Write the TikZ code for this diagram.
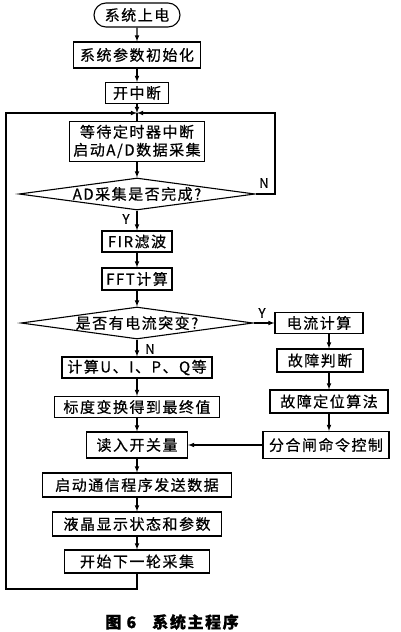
\documentclass[tikz,border=0pt]{standalone}
\usepackage{fontspec}
\setmainfont{Noto Sans CJK SC}[LetterSpace=10,FakeBold=0.6]
\usetikzlibrary{shapes.geometric,shapes.misc}
\begin{document}
\begin{tikzpicture}[x=1pt,y=-1pt]

\tikzstyle{block}=[rectangle,draw=black,line width=1.1pt,inner sep=0pt,align=center,font=\fontsize{15}{18}\selectfont]
\tikzstyle{term}=[rounded rectangle,draw=black,line width=1.1pt,inner sep=0pt,font=\fontsize{15}{18}\selectfont]
\tikzstyle{cond}=[diamond,draw=black,line width=1.1pt,inner sep=0pt,font=\fontsize{15}{18}\selectfont]
\tikzstyle{flow}=[->,>=latex,line width=1.1pt]
\tikzstyle{lab}=[inner sep=0pt,font=\fontsize{13}{13}\selectfont]
\useasboundingbox (0,0) rectangle (400,632);

\node[term, minimum width=86pt, minimum height=24pt] (start) at (137,15) {系统上电};
\node[block, minimum width=127pt, minimum height=26pt] (init) at (137,55) {系统参数初始化};
\node[block, minimum width=63pt, minimum height=21pt] (intr) at (137,93) {开中断};
\coordinate (join) at (137,113);
\node[block, minimum width=135pt, minimum height=40pt] (wait) at (137,141.5) {等待定时器中断\\启动A/D数据采集};
\node[cond, minimum width=236pt, minimum height=32pt] (adchk) at (137,194) {\makebox[0pt]{AD采集是否完成?}};
\node[block, minimum width=70pt, minimum height=21pt] (fir) at (137,241.5) {FIR滤波};
\node[block, minimum width=70pt, minimum height=22pt] (fft) at (137,279) {FFT计算};
\node[cond, minimum width=232pt, minimum height=32pt] (jump) at (137,323) {\makebox[0pt]{是否有电流突变?}};
\node[block, minimum width=150pt, minimum height=21pt] (calcui) at (137,367.5) {计算U、I、P、Q等};
\node[block, minimum width=165pt, minimum height=21pt] (scale) at (137,407) {标度变换得到最终值};
\node[block, minimum width=101pt, minimum height=26pt] (readsw) at (137,445) {读入开关量};
\node[block, minimum width=189pt, minimum height=24pt] (comm) at (137,485) {启动通信程序发送数据};
\node[block, minimum width=169pt, minimum height=24pt] (lcd) at (137,524) {液晶显示状态和参数};
\node[block, minimum width=145pt, minimum height=23pt] (nextrnd) at (137,561.5) {开始下一轮采集};

\node[block, minimum width=88pt, minimum height=21pt] (calc) at (319,323) {电流计算};
\node[block, minimum width=86pt, minimum height=23pt] (fault) at (320,360.5) {故障判断};
\node[block, minimum width=118pt, minimum height=23pt] (locate) at (329,401.5) {故障定位算法};
\node[block, minimum width=126pt, minimum height=27pt] (cmd) at (326,445) {分合闸命令控制};
\coordinate (rcol) at (329,0);

\node[lab] (n1) at (264,183) {N};
\node[lab] (y1) at (126,219) {Y};
\node[lab] (y2) at (262,313) {Y};
\node[lab] (n2) at (150,349) {N};

\coordinate (rtop) at (275,113);
\coordinate (lbot) at (6,589);
\coordinate (ltop) at (6,113);

\draw[flow] (start) -- (init);
\draw[flow] (init) -- (intr);
\draw[flow] (intr) -- (join);
\draw[line width=1.1pt] (join) -- (wait);
\draw[flow] (wait) -- (adchk);
\draw[flow] (adchk.east) -| (rtop) -- (join);
\draw[flow] (adchk) -- (fir);
\draw[flow] (fir) -- (fft);
\draw[flow] (fft) -- (jump);
\draw[flow] (jump.east) -- (calc.west);
\draw[flow] (jump) -- (calcui);
\draw[flow] (calcui) -- (scale);
\draw[flow] (scale) -- (readsw);
\draw[flow] (calc.south -| rcol) -- (fault.north -| rcol);
\draw[flow] (fault.south -| rcol) -- (locate.north -| rcol);
\draw[flow] (locate.south -| rcol) -- (cmd.north -| rcol);
\draw[flow] (cmd.west) -- (readsw.east);
\draw[flow] (readsw) -- (comm);
\draw[flow] (comm) -- (lcd);
\draw[flow] (lcd) -- (nextrnd);
\draw[flow] (nextrnd.south) |- (lbot) -- (ltop) -- (join);

\node (caption) at (172,622) {\fontsize{16}{16}\selectfont\bfseries 图 6\quad 系统主程序};
\end{tikzpicture}
\end{document}
